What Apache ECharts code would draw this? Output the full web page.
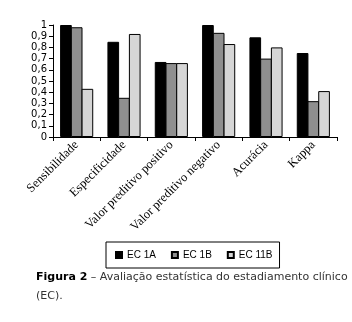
<!DOCTYPE html>
<html>
<head>
<meta charset="utf-8">
<script src="https://cdn.jsdelivr.net/npm/echarts@6/dist/echarts.min.js"></script>
<style>
  html, body { margin: 0; padding: 0; background: #fff; }
  #chart { width: 352px; height: 322px; }
</style>
</head>
<body>
<div id="chart"></div>
<script>
// Categories and values for each clinical stage
const categories = ['Sensibilidade', 'Especificidade', 'Valor preditivo positivo', 'Valor preditivo negativo', 'Acurácia', 'Kappa'];
const seriesNames = ['EC 1A', 'EC 1B', 'EC 11B'];
const ec1A = [1.00, 0.85, 0.67, 1.00, 0.89, 0.75];
const ec1B = [0.98, 0.35, 0.66, 0.93, 0.70, 0.32];
const ec11B = [0.43, 0.92, 0.66, 0.83, 0.80, 0.41];
const seriesValues = [ec1A, ec1B, ec11B];
const seriesColors = ['#000000', '#8f8f8f', '#d6d6d6'];

const chart = echarts.init(document.getElementById('chart'), null, { renderer: 'canvas' });

chart.setOption({
  animation: false,
  backgroundColor: '#ffffff',
  title: {
    left: 31,
    top: 263,
    text: '{b|Figura 2} – Avaliação estatística do estadiamento clínico\n(EC).',
    textStyle: {
      fontFamily: 'DejaVu Sans',
      fontSize: 11,
      fontWeight: 'normal',
      color: '#333',
      lineHeight: 19,
      rich: {
        b: { fontFamily: 'DejaVu Sans', fontSize: 11, fontWeight: 'bold', color: '#000', lineHeight: 19 }
      }
    }
  },
  legend: {
    left: 106,
    top: 242,
    data: seriesNames,
    itemWidth: 6,
    itemHeight: 6,
    itemGap: 15,
    padding: [8, 7, 8, 9],
    borderColor: '#000',
    borderWidth: 1,
    icon: 'rect',
    textStyle: { fontFamily: 'Liberation Sans', fontSize: 10, color: '#000' }
  },
  grid: { left: 53, right: 15, top: 25, bottom: 185, containLabel: false },
  xAxis: {
    type: 'category',
    data: categories,
    axisLine: { lineStyle: { color: '#000', width: 1 } },
    axisTick: { show: true, length: 4, lineStyle: { color: '#000' } },
    axisLabel: {
      rotate: 45,
      interval: 0,
      margin: 6,
      fontFamily: 'Liberation Serif',
      fontSize: 12.5,
      color: '#000'
    }
  },
  yAxis: {
    type: 'value',
    min: 0,
    max: 1,
    interval: 0.1,
    axisLine: { show: true, lineStyle: { color: '#000', width: 1 } },
    axisTick: { show: true, length: 4, lineStyle: { color: '#000' } },
    splitLine: { show: false },
    axisLabel: {
      margin: 6,
      fontFamily: 'DejaVu Sans',
      fontSize: 10,
      color: '#000',
      formatter: v => String(Math.round(v * 10) / 10).replace('.', ',')
    }
  },
  series: seriesNames.map((name, i) => ({
    name: name,
    type: 'bar',
    data: seriesValues[i],
    barGap: '-8%',
    barCategoryGap: '30%',
    itemStyle: { color: seriesColors[i], borderColor: '#000', borderWidth: 1 }
  }))
});
</script>
</body>
</html>
